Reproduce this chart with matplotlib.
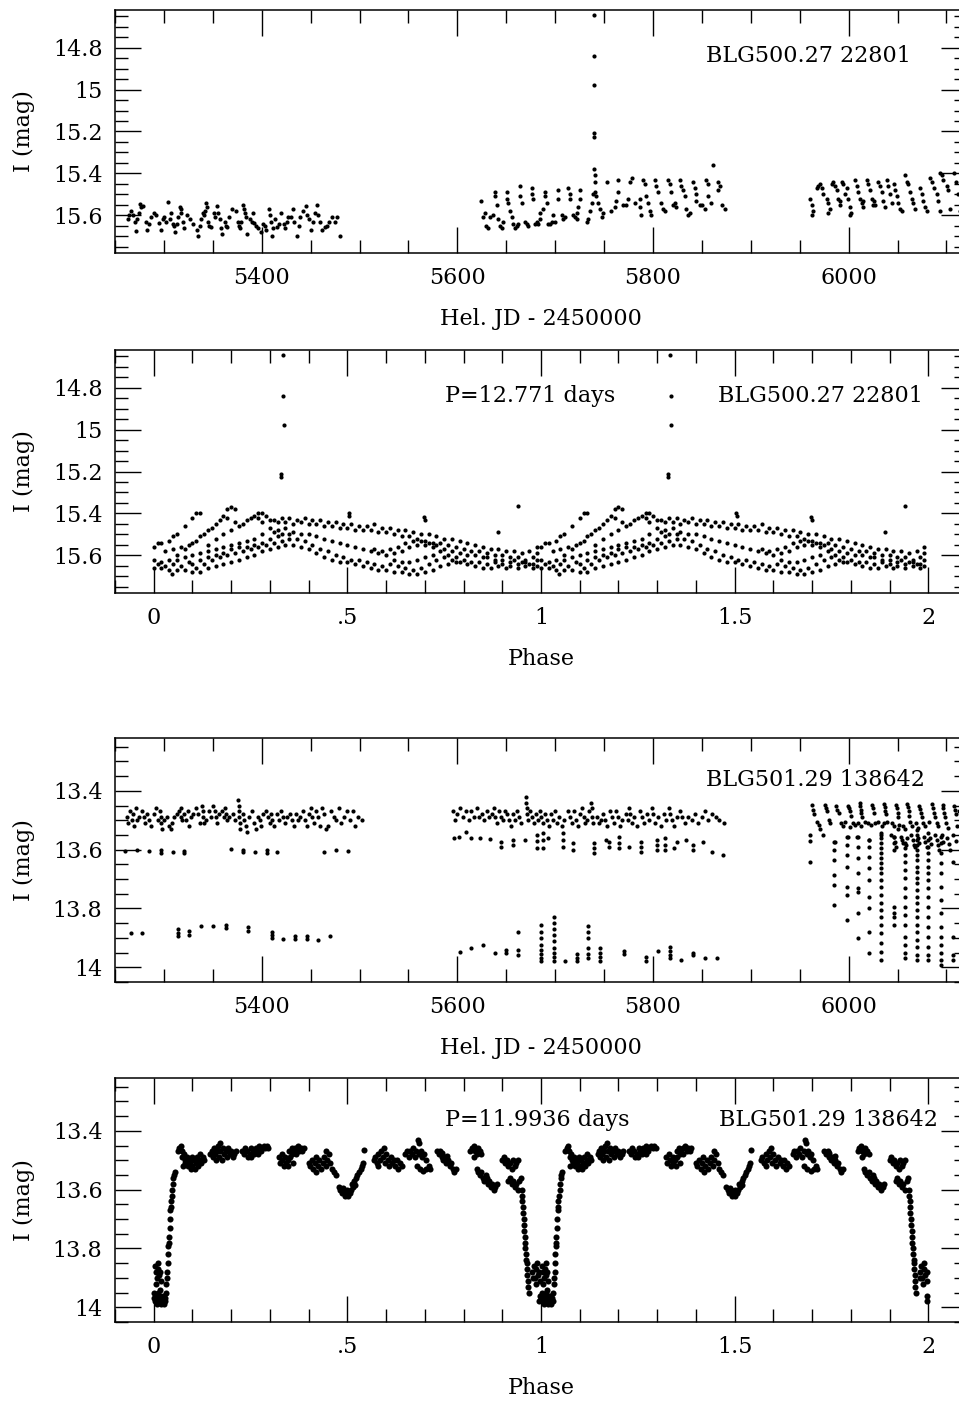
import numpy as np
import matplotlib.pyplot as plt
from matplotlib.ticker import MultipleLocator, FuncFormatter

plt.rcParams['font.family'] = ['DejaVu Serif']

# ---------------- BLG500.27 22801 : time series (HJD-2450000, I mag) ----------------
lc1_season1 = [
    (5263, 15.62), (5266, 15.58), (5268, 15.60), (5270, 15.63), (5271, 15.675), (5275, 15.59),
    (5276, 15.547), (5277, 15.56), (5279, 15.557), (5282, 15.63), (5283, 15.67), (5287, 15.61),
    (5290, 15.59), (5292, 15.60), (5295, 15.637), (5297, 15.67), (5300, 15.61), (5302, 15.63),
    (5304, 15.536), (5307, 15.59), (5309, 15.64), (5310, 15.65), (5311, 15.68), (5314, 15.61),
    (5316, 15.56), (5317, 15.59), (5318, 15.57), (5321, 15.66), (5324, 15.60), (5327, 15.62),
    (5334, 15.67), (5335, 15.70), (5338, 15.62), (5340, 15.59), (5341, 15.60), (5343, 15.54),
    (5344, 15.56), (5345, 15.63), (5348, 15.656), (5351, 15.59), (5352, 15.61), (5354, 15.557),
    (5357, 15.62), (5359, 15.69), (5362, 15.63), (5363, 15.65), (5365, 15.656), (5370, 15.57),
    (5376, 15.63), (5377, 15.65), (5378, 15.66), (5381, 15.55), (5382, 15.57), (5383, 15.59),
    (5385, 15.69), (5388, 15.62), (5390, 15.63), (5391, 15.59), (5392, 15.637), (5396, 15.66),
    (5401, 15.64), (5404, 15.67), (5407, 15.57), (5408, 15.60), (5409, 15.63), (5411, 15.70),
    (5414, 15.62), (5416, 15.656), (5420, 15.59), (5423, 15.64), (5424, 15.66), (5427, 15.61),
    (5432, 15.57), (5433, 15.63), (5436, 15.70), (5439, 15.61), (5442, 15.58), (5445, 15.557),
    (5448, 15.616), (5450, 15.67), (5454, 15.59), (5457, 15.55), (5460, 15.63), (5462, 15.67),
    (5465, 15.656), (5469, 15.63), (5472, 15.61), (5477, 15.61), (5480, 15.70),
    (5264, 15.60), (5273, 15.62), (5285, 15.64), (5299, 15.62), (5306, 15.62), (5313, 15.64),
    (5320, 15.63), (5330, 15.64), (5337, 15.65), (5342, 15.58), (5346, 15.65), (5355, 15.59),
    (5358, 15.66), (5367, 15.61), (5374, 15.58), (5379, 15.63), (5384, 15.61), (5394, 15.65),
    (5399, 15.68), (5403, 15.65), (5412, 15.66), (5418, 15.64), (5426, 15.63), (5430, 15.61),
    (5438, 15.65), (5446, 15.60), (5452, 15.63), (5458, 15.60), (5467, 15.65), (5475, 15.63),
]
lc1_season2 = [
    (5624.7, 15.53), (5628.1, 15.59), (5629.8, 15.65), (5631.5, 15.66), (5633.2, 15.61),
    (5638.4, 15.49), (5638.4, 15.51), (5640.1, 15.55), (5641.8, 15.62), (5643.5, 15.65), (5646.9, 15.63),
    (5650.3, 15.49), (5650.3, 15.52), (5652.0, 15.54), (5653.7, 15.58), (5655.4, 15.61), (5657.1, 15.64),
    (5662.2, 15.64), (5663.9, 15.46), (5663.9, 15.51), (5665.6, 15.54), (5669.0, 15.63), (5670.8, 15.64),
    (5675.9, 15.47), (5675.9, 15.50), (5677.6, 15.52), (5681.0, 15.63), (5684.4, 15.59), (5684.4, 15.62),
    (5687.8, 15.57), (5689.5, 15.49), (5689.5, 15.51), (5691.2, 15.54), (5694.6, 15.64), (5696.3, 15.63),
    (5698.0, 15.60), (5703.1, 15.48), (5703.1, 15.52), (5706.6, 15.60), (5708.3, 15.62),
    (5713.4, 15.47), (5715.1, 15.50), (5715.1, 15.52), (5721.9, 15.59), (5721.9, 15.62), (5723.6, 15.56),
    (5725.3, 15.48), (5725.3, 15.52), (5733.8, 15.62), (5735.5, 15.58), (5737.2, 15.54), (5738.9, 15.50),
    (5739.6, 14.643), (5739.6, 14.84), (5739.6, 14.976), (5739.6, 15.208), (5739.6, 15.224),
    (5739.6, 15.38), (5740.6, 15.41), (5740.6, 15.44), (5740.6, 15.49), (5741.5, 15.51),
    (5744.0, 15.54), (5745.7, 15.57), (5747.4, 15.61), (5752.5, 15.44),
    (5761.0, 15.56), (5762.7, 15.53), (5764.4, 15.49), (5764.4, 15.43), (5769.5, 15.55),
    (5774.6, 15.52), (5776.3, 15.44), (5778.7, 15.42), (5786.6, 15.52), (5786.6, 15.56),
    (5788.2, 15.60), (5789.9, 15.43), (5791.6, 15.45), (5793.3, 15.51), (5795.0, 15.54), (5796.7, 15.58),
    (5801.8, 15.43), (5803.5, 15.46), (5805.2, 15.49), (5808.6, 15.54), (5810.3, 15.57),
    (5815.4, 15.43), (5817.1, 15.45), (5818.8, 15.49), (5822.2, 15.54), (5823.9, 15.56),
    (5827.3, 15.43), (5829.0, 15.46), (5830.7, 15.48), (5832.4, 15.51), (5834.2, 15.57), (5835.8, 15.60),
    (5841.0, 15.44), (5842.7, 15.47), (5844.4, 15.50), (5844.4, 15.53), (5847.8, 15.55),
    (5854.6, 15.43), (5856.3, 15.45), (5856.3, 15.51), (5859.7, 15.54), (5861.4, 15.36),
    (5866.5, 15.44), (5866.5, 15.48), (5874.0, 15.57),
    (5626.4, 15.61), (5636.7, 15.60), (5645.2, 15.66), (5658.8, 15.66), (5660.5, 15.65),
    (5672.5, 15.65), (5679.3, 15.64), (5682.7, 15.64), (5693.0, 15.64), (5699.7, 15.63),
    (5710.0, 15.61), (5718.5, 15.60), (5720.2, 15.61), (5732.1, 15.63), (5749.1, 15.59),
    (5757.6, 15.58), (5772.9, 15.55), (5781.4, 15.54), (5798.4, 15.60), (5812.0, 15.58),
    (5820.5, 15.55), (5837.5, 15.59), (5850.0, 15.55), (5852.9, 15.57), (5868.2, 15.46), (5871.0, 15.55),
]
lc1_season3 = [
    (5960.6, 15.52), (5962.3, 15.55), (5964.0, 15.58), (5962.3, 15.60),
    (5967.4, 15.47), (5969.1, 15.46), (5970.8, 15.45), (5972.5, 15.47), (5974.2, 15.50),
    (5977.6, 15.52), (5979.3, 15.54), (5981.0, 15.57), (5979.3, 15.59),
    (5982.8, 15.45), (5984.5, 15.44), (5986.2, 15.46), (5987.9, 15.48),
    (5989.6, 15.52), (5991.3, 15.55), (5991.3, 15.53),
    (5993.0, 15.44), (5994.7, 15.45), (5996.4, 15.50), (5998.1, 15.47),
    (5999.8, 15.52), (6001.5, 15.56), (6002.2, 15.59), (6001.5, 15.60),
    (6006.6, 15.43), (6008.4, 15.46), (6010.0, 15.49), (6011.8, 15.52),
    (6013.5, 15.54), (6015.2, 15.53), (6015.2, 15.56),
    (6018.6, 15.43), (6020.3, 15.45), (6022.0, 15.48), (6023.7, 15.52), (6025.4, 15.55),
    (6026.1, 15.53), (6027.1, 15.55),
    (6030.5, 15.44), (6032.2, 15.46), (6033.9, 15.49), (6035.6, 15.53), (6037.3, 15.56),
    (6039.0, 15.43), (6040.7, 15.46), (6042.4, 15.50), (6043.9, 15.54),
    (6045.9, 15.45), (6047.6, 15.48), (6049.3, 15.51), (6051.0, 15.54), (6052.7, 15.57), (6054.4, 15.58),
    (6057.8, 15.41), (6059.5, 15.44), (6061.2, 15.45), (6062.9, 15.49), (6064.6, 15.52),
    (6066.3, 15.54), (6068.0, 15.57),
    (6073.1, 15.47), (6074.8, 15.50), (6076.5, 15.53), (6078.2, 15.56), (6079.9, 15.58),
    (6083.4, 15.42), (6085.1, 15.44), (6086.8, 15.47),
    (6090.2, 15.50), (6091.9, 15.53), (6093.6, 15.58),
    (6093.6, 15.40), (6095.3, 15.41), (6097.0, 15.43),
    (6100.4, 15.46), (6102.1, 15.48), (6103.8, 15.57),
    (6108, 15.40), (6110, 15.44), (6112, 15.50), (6115, 15.38), (6117, 15.45), (6114, 15.58),
]

# ---------------- BLG500.27 22801 : folded, P = 12.771 d (phase, I mag) ----------------
ph1_upper = [
    (0.27, 15.42), (0.29, 15.41), (0.31, 15.43), (0.33, 15.42), (0.35, 15.42), (0.37, 15.43),
    (0.39, 15.42), (0.41, 15.43), (0.43, 15.43), (0.45, 15.44), (0.47, 15.44), (0.49, 15.45),
    (0.51, 15.45), (0.53, 15.46), (0.55, 15.46), (0.57, 15.45), (0.59, 15.47), (0.61, 15.47),
    (0.63, 15.48), (0.65, 15.48), (0.67, 15.49), (0.69, 15.50), (0.71, 15.50), (0.73, 15.51),
    (0.75, 15.52), (0.77, 15.52), (0.79, 15.53), (0.81, 15.54), (0.83, 15.55), (0.85, 15.56),
    (0.87, 15.57), (0.89, 15.57), (0.91, 15.58), (0.93, 15.58), (0.95, 15.59), (0.97, 15.58), (0.99, 15.59),
    (0.28, 15.44), (0.30, 15.43), (0.32, 15.44), (0.34, 15.44), (0.36, 15.45), (0.38, 15.44),
    (0.40, 15.45), (0.42, 15.45), (0.44, 15.46), (0.46, 15.46), (0.48, 15.47), (0.50, 15.47),
    (0.52, 15.48), (0.54, 15.48), (0.56, 15.48), (0.58, 15.49), (0.60, 15.49), (0.62, 15.50),
    (0.64, 15.51), (0.66, 15.51), (0.68, 15.52), (0.70, 15.53), (0.72, 15.54), (0.74, 15.54),
    (0.76, 15.55), (0.78, 15.56), (0.80, 15.57), (0.82, 15.58), (0.84, 15.58), (0.86, 15.59),
    (0.88, 15.60), (0.90, 15.60), (0.92, 15.61), (0.94, 15.61), (0.96, 15.62), (0.98, 15.61),
]
ph1_middle = [
    (0.30, 15.47), (0.32, 15.48), (0.34, 15.47), (0.36, 15.49), (0.38, 15.50), (0.40, 15.50),
    (0.42, 15.51), (0.44, 15.52), (0.46, 15.53), (0.48, 15.54), (0.50, 15.55), (0.52, 15.56),
    (0.54, 15.57), (0.56, 15.58), (0.58, 15.59), (0.60, 15.60), (0.62, 15.59), (0.64, 15.58),
    (0.66, 15.56), (0.68, 15.55), (0.70, 15.55), (0.72, 15.56), (0.74, 15.58), (0.76, 15.60),
    (0.78, 15.61), (0.80, 15.62), (0.82, 15.63), (0.84, 15.63), (0.86, 15.64), (0.88, 15.63),
    (0.90, 15.64), (0.92, 15.63), (0.94, 15.64), (0.96, 15.63), (0.98, 15.64),
    (0.62, 15.62), (0.64, 15.63), (0.66, 15.63), (0.68, 15.62), (0.70, 15.61), (0.72, 15.60),
    (0.57, 15.57), (0.59, 15.58), (0.61, 15.57), (0.63, 15.56), (0.65, 15.54), (0.67, 15.53),
    (0.69, 15.53), (0.71, 15.54), (0.73, 15.55), (0.75, 15.57), (0.77, 15.58), (0.79, 15.59),
    (0.81, 15.60), (0.83, 15.60), (0.85, 15.61),
]
ph1_lower = [
    (0.38, 15.56), (0.40, 15.57), (0.42, 15.59), (0.44, 15.61), (0.46, 15.62), (0.48, 15.63),
    (0.50, 15.63), (0.52, 15.64), (0.54, 15.65), (0.56, 15.66), (0.58, 15.67), (0.60, 15.67),
    (0.62, 15.68), (0.64, 15.68), (0.66, 15.69), (0.68, 15.69), (0.70, 15.68), (0.72, 15.67),
    (0.74, 15.65), (0.76, 15.64), (0.78, 15.63),
    (0.31, 15.49), (0.33, 15.50), (0.35, 15.50), (0.37, 15.52), (0.39, 15.53), (0.41, 15.55),
    (0.43, 15.57), (0.45, 15.58), (0.47, 15.60), (0.49, 15.61), (0.51, 15.62), (0.53, 15.62),
    (0.55, 15.63), (0.57, 15.64), (0.59, 15.65), (0.61, 15.64), (0.63, 15.65), (0.65, 15.66),
    (0.67, 15.67), (0.69, 15.66), (0.71, 15.64), (0.73, 15.62), (0.75, 15.61), (0.77, 15.62),
    (0.79, 15.63), (0.81, 15.64), (0.83, 15.65), (0.85, 15.66), (0.87, 15.66), (0.89, 15.65),
    (0.91, 15.66), (0.93, 15.62), (0.95, 15.63), (0.97, 15.64), (0.99, 15.65),
]
ph1_rise = [
    (0.00, 15.66), (0.02, 15.66), (0.04, 15.67), (0.06, 15.67), (0.08, 15.67), (0.10, 15.68),
    (0.12, 15.68), (0.14, 15.66), (0.16, 15.65), (0.18, 15.64), (0.20, 15.63), (0.22, 15.62),
    (0.24, 15.61), (0.26, 15.60), (0.28, 15.58), (0.30, 15.57), (0.32, 15.56), (0.34, 15.55), (0.36, 15.55),
    (0.00, 15.62), (0.02, 15.63), (0.04, 15.62), (0.06, 15.62), (0.08, 15.61), (0.10, 15.60),
    (0.12, 15.59), (0.14, 15.58), (0.16, 15.57), (0.18, 15.56), (0.20, 15.55), (0.22, 15.54),
    (0.24, 15.53), (0.26, 15.52), (0.28, 15.50),
    (0.00, 15.56), (0.01, 15.54), (0.02, 15.54), (0.04, 15.53), (0.05, 15.51), (0.06, 15.50),
    (0.08, 15.46), (0.10, 15.42), (0.11, 15.40), (0.12, 15.40),
    (0.06, 15.60), (0.08, 15.57), (0.10, 15.54), (0.12, 15.51), (0.14, 15.48), (0.16, 15.45),
    (0.18, 15.41), (0.19, 15.38), (0.20, 15.37), (0.21, 15.38),
    (0.14, 15.55), (0.16, 15.52), (0.18, 15.50), (0.20, 15.48), (0.22, 15.46), (0.24, 15.43),
    (0.26, 15.41), (0.27, 15.40), (0.28, 15.40),
    (0.10, 15.64), (0.12, 15.62), (0.14, 15.61), (0.16, 15.60), (0.18, 15.59), (0.20, 15.57),
    (0.22, 15.56), (0.24, 15.56), (0.26, 15.55), (0.28, 15.54), (0.30, 15.52), (0.32, 15.51),
    (0.86, 15.61), (0.88, 15.62), (0.90, 15.62), (0.92, 15.65), (0.94, 15.66), (0.96, 15.65),
    (0.98, 15.66), (0.99, 15.62), (0.99, 15.56),
    (0.01, 15.64), (0.03, 15.65), (0.05, 15.64), (0.07, 15.65), (0.09, 15.63), (0.11, 15.66),
    (0.13, 15.64), (0.15, 15.62), (0.17, 15.61), (0.19, 15.60), (0.21, 15.59), (0.23, 15.58),
    (0.25, 15.57), (0.27, 15.56), (0.29, 15.55), (0.31, 15.54), (0.33, 15.53), (0.35, 15.52),
    (0.03, 15.58), (0.05, 15.57), (0.07, 15.56), (0.09, 15.55), (0.11, 15.53), (0.13, 15.50),
    (0.15, 15.47), (0.17, 15.43), (0.19, 15.42), (0.21, 15.44), (0.23, 15.45), (0.25, 15.42),
]
ph1_outliers = [
    (0.333, 14.645), (0.335, 14.84), (0.336, 14.98), (0.328, 15.21), (0.329, 15.225),
    (0.94, 15.363), (0.888, 15.49), (0.503, 15.40), (0.505, 15.41), (0.697, 15.416),
    (0.700, 15.43), (0.046, 15.69),
]

# ---------------- BLG501.29 138642 : time series ----------------
lc2_season1 = [
    (5262, 13.49), (5263, 13.51), (5265, 13.47), (5267, 13.50), (5268, 13.48), (5269, 13.52),
    (5271, 13.46), (5273, 13.50), (5275, 13.49), (5278, 13.47), (5280, 13.49), (5281, 13.51),
    (5283, 13.48), (5285, 13.50), (5287, 13.52), (5290, 13.48), (5292, 13.46), (5294, 13.50),
    (5296, 13.47), (5297, 13.49), (5297, 13.51), (5298, 13.53), (5300, 13.50), (5303, 13.49),
    (5305, 13.52), (5307, 13.53), (5308, 13.51), (5310, 13.49), (5313, 13.48), (5315, 13.47),
    (5317, 13.49), (5318, 13.46), (5319, 13.50), (5321, 13.48), (5323, 13.50), (5325, 13.47),
    (5326, 13.52), (5328, 13.49), (5330, 13.48), (5333, 13.46), (5335, 13.48), (5337, 13.51),
    (5339, 13.45), (5340, 13.47), (5340, 13.49), (5341, 13.51), (5343, 13.50), (5346, 13.47),
    (5348, 13.49), (5350, 13.45), (5352, 13.47), (5353, 13.49), (5354, 13.51), (5356, 13.48),
    (5359, 13.47), (5361, 13.49), (5362, 13.46), (5364, 13.48), (5365, 13.50), (5367, 13.49),
    (5371, 13.48), (5373, 13.50), (5376, 13.43), (5377, 13.45), (5377, 13.47), (5377, 13.49),
    (5378, 13.51), (5378, 13.53), (5381, 13.48), (5382, 13.50), (5384, 13.52), (5385, 13.54),
    (5387, 13.49), (5390, 13.47), (5392, 13.51), (5394, 13.53), (5396, 13.49), (5398, 13.50),
    (5399, 13.52), (5401, 13.48), (5404, 13.47), (5406, 13.49), (5408, 13.51), (5410, 13.48),
    (5411, 13.50), (5413, 13.52), (5416, 13.48), (5418, 13.50), (5420, 13.47), (5422, 13.49),
    (5424, 13.51), (5426, 13.49), (5429, 13.48), (5431, 13.50), (5433, 13.52), (5435, 13.48),
    (5437, 13.50), (5439, 13.49), (5442, 13.47), (5444, 13.50), (5446, 13.52), (5448, 13.48),
    (5450, 13.46), (5451, 13.49), (5453, 13.51), (5456, 13.47), (5458, 13.49), (5460, 13.52),
    (5462, 13.46), (5464, 13.48), (5466, 13.53), (5468, 13.52), (5471, 13.47), (5474, 13.49),
    (5476, 13.50), (5479, 13.46), (5481, 13.51), (5484, 13.49), (5487, 13.47), (5490, 13.50),
    (5493, 13.47), (5495, 13.52), (5498, 13.49), (5503, 13.50),
    (5260.4, 13.605), (5273, 13.602), (5285, 13.605), (5297, 13.600), (5297, 13.612),
    (5309, 13.608), (5321, 13.603), (5321, 13.612), (5369, 13.598), (5381, 13.600),
    (5381, 13.608), (5393, 13.607), (5405, 13.602), (5405, 13.612), (5416, 13.607),
    (5464, 13.608), (5476, 13.601), (5488, 13.603),
    (5266, 13.883), (5278, 13.883), (5314, 13.870), (5314, 13.882), (5314, 13.895),
    (5326, 13.875), (5326, 13.890), (5338, 13.860), (5350, 13.858), (5363, 13.855),
    (5363, 13.868), (5386, 13.862), (5386, 13.875), (5411, 13.880), (5411, 13.890),
    (5411, 13.900), (5422, 13.903), (5434, 13.895), (5434, 13.905), (5446, 13.895),
    (5446, 13.905), (5458, 13.907), (5470, 13.895),
]
lc2_season2 = [
    (5596, 13.47), (5598, 13.50), (5600, 13.48), (5603, 13.46), (5606, 13.49), (5609, 13.47),
    (5612, 13.50), (5614, 13.47), (5617, 13.49), (5620, 13.46), (5622, 13.49), (5625, 13.48),
    (5627, 13.50), (5630, 13.47), (5632, 13.49), (5635, 13.48), (5637, 13.46), (5639, 13.49),
    (5641, 13.51), (5643, 13.47), (5645, 13.49), (5647, 13.50), (5649, 13.47), (5651, 13.48),
    (5653, 13.50), (5655, 13.52), (5657, 13.48), (5659, 13.50), (5661, 13.47), (5663, 13.49),
    (5665, 13.51), (5670, 13.42), (5670, 13.44), (5671, 13.46), (5671, 13.48), (5672, 13.50),
    (5674, 13.47), (5676, 13.49), (5678, 13.51), (5680, 13.48), (5682, 13.50), (5684, 13.47),
    (5686, 13.49), (5688, 13.51), (5690, 13.48), (5692, 13.50), (5694, 13.52), (5696, 13.48),
    (5698, 13.50), (5700, 13.47), (5702, 13.51), (5704, 13.49), (5707, 13.52), (5709, 13.50),
    (5713, 13.47), (5715, 13.49), (5717, 13.51), (5719, 13.47), (5721, 13.50), (5723, 13.52),
    (5725, 13.48), (5727, 13.46), (5729, 13.49), (5731, 13.51), (5733, 13.50), (5735, 13.47),
    (5737, 13.44), (5738, 13.46), (5738, 13.49), (5739, 13.51), (5743, 13.49), (5745, 13.51),
    (5747, 13.50), (5749, 13.48), (5751, 13.50), (5753, 13.52), (5756, 13.47), (5758, 13.49),
    (5760, 13.51), (5762, 13.47), (5764, 13.49), (5766, 13.52), (5768, 13.50), (5772, 13.48),
    (5774, 13.50), (5776, 13.46), (5777, 13.48), (5779, 13.51), (5781, 13.49), (5784, 13.52),
    (5787, 13.47), (5789, 13.49), (5791, 13.51), (5794, 13.48), (5796, 13.50), (5799, 13.46),
    (5800, 13.48), (5802, 13.51), (5805, 13.49), (5808, 13.52), (5811, 13.48), (5813, 13.50),
    (5816, 13.46), (5817, 13.48), (5819, 13.50), (5822, 13.52), (5825, 13.49), (5828, 13.47),
    (5830, 13.49), (5833, 13.51), (5836, 13.49), (5840, 13.50), (5843, 13.48), (5846, 13.51),
    (5850, 13.49), (5853, 13.47), (5856, 13.50), (5860, 13.48), (5864, 13.49), (5868, 13.50),
    (5873, 13.51),
    (5597, 13.560), (5602, 13.556), (5609, 13.540), (5614, 13.560), (5623, 13.561), (5633, 13.565),
    (5645, 13.573), (5645, 13.590), (5657, 13.567), (5657, 13.584), (5669, 13.567), (5681, 13.550),
    (5681, 13.570), (5681, 13.595), (5688, 13.544), (5688, 13.567), (5688, 13.595), (5693, 13.561),
    (5708, 13.544), (5708, 13.567), (5708, 13.590), (5718, 13.578), (5718, 13.601), (5740, 13.578),
    (5740, 13.595), (5740, 13.612), (5752, 13.567), (5755, 13.573), (5755, 13.590), (5765, 13.556),
    (5765, 13.578), (5765, 13.595), (5776, 13.590), (5788, 13.573), (5788, 13.590), (5788, 13.607),
    (5804, 13.567), (5804, 13.584), (5804, 13.601), (5812, 13.561), (5812, 13.584), (5812, 13.601),
    (5822, 13.595), (5825, 13.573), (5834, 13.567), (5841, 13.584), (5841, 13.601), (5851, 13.573),
    (5860, 13.607), (5872, 13.618),
    (5602.6, 13.947), (5614, 13.936), (5626, 13.925), (5638, 13.951), (5650, 13.942), (5650, 13.951),
    (5662, 13.879), (5662, 13.942), (5662, 13.959), (5686, 13.857), (5686, 13.880), (5686, 13.902),
    (5686, 13.925), (5686, 13.942), (5686, 13.955), (5686, 13.970), (5686, 13.980), (5699, 13.828),
    (5699, 13.850), (5699, 13.870), (5699, 13.890), (5699, 13.912), (5699, 13.935), (5699, 13.950),
    (5699, 13.965), (5699, 13.980), (5710, 13.980), (5722, 13.955), (5722, 13.968), (5722, 13.980),
    (5734, 13.860), (5734, 13.880), (5734, 13.900), (5734, 13.935), (5734, 13.955), (5734, 13.970),
    (5746, 13.935), (5746, 13.950), (5746, 13.965), (5746, 13.980), (5770, 13.945), (5770, 13.955),
    (5793, 13.965), (5793, 13.980), (5805, 13.945), (5817, 13.930), (5817, 13.945), (5817, 13.960),
    (5817, 13.970), (5829, 13.975), (5841, 13.950), (5841, 13.960), (5853, 13.970), (5865, 13.970),
]
lc2_season3 = [
    (5963, 13.448), (5964, 13.465), (5965, 13.480), (5976, 13.448), (5977, 13.460), (5978, 13.470),
    (5987, 13.450), (5988, 13.465), (5990, 13.475), (5999, 13.450), (6000, 13.460), (6001, 13.470),
    (6002, 13.485), (6012, 13.442), (6012, 13.453), (6013, 13.465), (6013, 13.476), (6014, 13.488),
    (6024, 13.448), (6025, 13.460), (6026, 13.475), (6036, 13.445), (6037, 13.455), (6037, 13.468),
    (6038, 13.480), (6048, 13.448), (6049, 13.460), (6050, 13.475), (6051, 13.488), (6060, 13.445),
    (6061, 13.455), (6062, 13.470), (6062, 13.485), (6072, 13.450), (6073, 13.462), (6074, 13.476),
    (6075, 13.490), (6085, 13.445), (6086, 13.460), (6087, 13.475), (6088, 13.490), (6096, 13.448),
    (6097, 13.460), (6098, 13.475), (6099, 13.490), (6108, 13.450), (6109, 13.465), (6110, 13.480),
    (6113, 13.470),
    (5968, 13.505), (5970, 13.516), (5971, 13.530), (5980, 13.500), (5981, 13.511), (5992, 13.510),
    (5994, 13.520), (5996, 13.505), (6001, 13.522), (6004, 13.511), (6007, 13.516), (6010, 13.511),
    (6013, 13.520), (6017, 13.505), (6020, 13.511), (6023, 13.516), (6027, 13.511), (6030, 13.505),
    (6034, 13.520), (6036, 13.511), (6039, 13.505), (6044, 13.510), (6046, 13.520), (6050, 13.530),
    (6052, 13.515), (6056, 13.520), (6058, 13.530), (6063, 13.505), (6065, 13.520), (6069, 13.510),
    (6071, 13.525), (6076, 13.510), (6078, 13.520), (6082, 13.505), (6090, 13.510), (6091, 13.520),
    (6100, 13.510), (6102, 13.525), (6111, 13.520),
    (5961, 13.550), (5961, 13.570), (5974, 13.550), (5986, 13.573), (5999, 13.556), (6009, 13.556),
    (6021, 13.567), (6033, 13.550), (6043, 13.550), (6046, 13.556), (6047, 13.573), (6048, 13.590),
    (6054, 13.556), (6055, 13.567), (6056, 13.578), (6059, 13.584), (6060, 13.560), (6064, 13.550),
    (6066, 13.567), (6067, 13.584), (6068, 13.590), (6071, 13.560), (6072, 13.578), (6077, 13.556),
    (6078, 13.573), (6080, 13.590), (6083, 13.560), (6084, 13.580), (6088, 13.550), (6090, 13.567),
    (6091, 13.584), (6092, 13.600), (6095, 13.550), (6096, 13.575), (6101, 13.560), (6103, 13.580),
    (6104, 13.600), (6107, 13.550), (6110, 13.570), (5961, 13.641),
]
# nights caught in eclipse ingress: (HJD-2450000, [I mag, ...])
lc2_eclipse_nights = [
    (5985.5, [13.573, 13.601, 13.635, 13.686, 13.720, 13.788]),
    (5998.0, [13.556, 13.584, 13.618, 13.658, 13.726, 13.754, 13.839]),
    (6009.4, [13.556, 13.590, 13.629, 13.680, 13.731, 13.743, 13.817, 13.902]),
    (6021.3, [13.567, 13.590, 13.624, 13.663, 13.703, 13.760, 13.800, 13.879, 13.953]),
    (6033.3, [13.544, 13.561, 13.578, 13.595, 13.612, 13.629, 13.646, 13.663, 13.680, 13.703,
              13.726, 13.754, 13.783, 13.805, 13.828, 13.856, 13.885, 13.919, 13.947, 13.976]),
    (6046.0, [13.556, 13.578, 13.601, 13.794, 13.817, 13.828, 13.856]),
    (6057.8, [13.578, 13.595, 13.618, 13.641, 13.669, 13.697, 13.731, 13.760, 13.794, 13.823,
              13.856, 13.896, 13.925, 13.953, 13.970]),
    (6069.7, [13.533, 13.550, 13.567, 13.584, 13.601, 13.618, 13.635, 13.658, 13.675, 13.697,
              13.714, 13.737, 13.760, 13.783, 13.805, 13.828, 13.856, 13.879, 13.907, 13.930,
              13.959, 13.976]),
    (6081.6, [13.544, 13.567, 13.590, 13.612, 13.635, 13.658, 13.680, 13.703, 13.731, 13.760,
              13.794, 13.828, 13.862, 13.896, 13.930, 13.959, 13.976]),
    (6094.3, [13.556, 13.578, 13.612, 13.646, 13.680, 13.726, 13.771, 13.817, 13.862, 13.896,
              13.925, 13.953, 13.976, 13.993]),
    (6106.5, [13.641, 13.896, 13.959, 13.976]),
]

# ---------------- BLG501.29 138642 : folded, P = 11.9936 d ----------------
ph2_plateau = [
    # clump ~0.06-0.13
    (0.062, 13.47), (0.066, 13.46), (0.070, 13.45), (0.072, 13.47), (0.074, 13.49), (0.078, 13.48),
    (0.080, 13.50), (0.082, 13.51), (0.086, 13.49), (0.088, 13.52), (0.090, 13.50), (0.094, 13.51),
    (0.096, 13.53), (0.098, 13.49), (0.100, 13.52), (0.104, 13.50), (0.106, 13.53), (0.108, 13.51),
    (0.112, 13.49), (0.114, 13.52), (0.118, 13.50), (0.120, 13.48), (0.122, 13.51), (0.126, 13.49),
    (0.130, 13.50), (0.076, 13.52),
    # clump ~0.15-0.21
    (0.146, 13.48), (0.150, 13.47), (0.152, 13.49), (0.156, 13.46), (0.158, 13.48), (0.160, 13.50),
    (0.164, 13.47), (0.166, 13.45), (0.168, 13.49), (0.170, 13.44), (0.172, 13.47), (0.176, 13.50),
    (0.178, 13.46), (0.182, 13.48), (0.186, 13.47), (0.188, 13.49), (0.192, 13.46), (0.196, 13.48),
    (0.200, 13.47), (0.204, 13.49), (0.208, 13.48), (0.212, 13.47),
    # clump ~0.23-0.30
    (0.228, 13.47), (0.232, 13.48), (0.236, 13.46), (0.240, 13.47), (0.244, 13.49), (0.248, 13.48),
    (0.252, 13.46), (0.256, 13.47), (0.260, 13.48), (0.264, 13.46), (0.268, 13.47), (0.272, 13.45),
    (0.276, 13.47), (0.280, 13.46), (0.284, 13.45), (0.288, 13.46), (0.292, 13.45), (0.296, 13.46),
    (0.250, 13.49), (0.270, 13.48),
    # clump ~0.32-0.39
    (0.324, 13.49), (0.326, 13.51), (0.330, 13.48), (0.332, 13.50), (0.336, 13.52), (0.340, 13.49),
    (0.342, 13.51), (0.346, 13.50), (0.350, 13.47), (0.352, 13.49), (0.356, 13.46), (0.358, 13.48),
    (0.362, 13.47), (0.366, 13.46), (0.368, 13.48), (0.372, 13.45), (0.376, 13.47), (0.380, 13.46),
    (0.384, 13.47), (0.388, 13.46), (0.360, 13.51), (0.348, 13.52),
    # clump ~0.40-0.47
    (0.400, 13.51), (0.404, 13.52), (0.408, 13.50), (0.412, 13.53), (0.416, 13.51), (0.420, 13.54),
    (0.424, 13.52), (0.428, 13.50), (0.432, 13.53), (0.436, 13.51), (0.440, 13.49), (0.444, 13.52),
    (0.446, 13.47), (0.448, 13.50), (0.452, 13.48), (0.456, 13.51), (0.460, 13.53), (0.466, 13.54),
    (0.470, 13.55), (0.418, 13.49),
    # secondary minimum ~0.48-0.55
    (0.478, 13.59), (0.482, 13.60), (0.486, 13.61), (0.490, 13.60), (0.494, 13.62), (0.498, 13.61),
    (0.502, 13.62), (0.506, 13.61), (0.510, 13.60), (0.514, 13.59), (0.488, 13.595), (0.500, 13.60),
    (0.518, 13.57), (0.522, 13.56), (0.526, 13.55), (0.530, 13.54), (0.534, 13.53), (0.538, 13.52),
    (0.540, 13.51), (0.543, 13.465), (0.512, 13.58), (0.520, 13.585),
    # clump ~0.57-0.64
    (0.568, 13.50), (0.572, 13.49), (0.576, 13.51), (0.580, 13.48), (0.584, 13.50), (0.588, 13.47),
    (0.592, 13.49), (0.596, 13.51), (0.600, 13.48), (0.604, 13.50), (0.608, 13.52), (0.612, 13.49),
    (0.616, 13.51), (0.620, 13.50), (0.624, 13.52), (0.628, 13.50), (0.632, 13.53), (0.636, 13.51),
    (0.640, 13.52), (0.594, 13.46), (0.580, 13.52),
    # clump ~0.65-0.71
    (0.650, 13.48), (0.654, 13.47), (0.658, 13.49), (0.662, 13.47), (0.666, 13.48), (0.670, 13.46),
    (0.674, 13.49), (0.678, 13.47), (0.682, 13.43), (0.684, 13.44), (0.686, 13.48), (0.690, 13.47),
    (0.694, 13.49), (0.698, 13.48), (0.702, 13.50), (0.680, 13.52), (0.688, 13.53), (0.696, 13.535),
    (0.704, 13.53), (0.710, 13.52), (0.714, 13.53),
    # clump ~0.73-0.78
    (0.732, 13.47), (0.736, 13.48), (0.740, 13.47), (0.744, 13.49), (0.748, 13.50), (0.752, 13.49),
    (0.756, 13.51), (0.760, 13.50), (0.764, 13.52), (0.768, 13.51), (0.772, 13.53), (0.776, 13.54),
    (0.780, 13.53), (0.745, 13.475), (0.758, 13.485),
    # clumps ~0.82-0.95
    (0.818, 13.47), (0.822, 13.46), (0.826, 13.45), (0.830, 13.47), (0.834, 13.48), (0.838, 13.46),
    (0.842, 13.47), (0.846, 13.48), (0.828, 13.49),
    (0.834, 13.53), (0.838, 13.54), (0.842, 13.55), (0.846, 13.54), (0.850, 13.56), (0.854, 13.57),
    (0.858, 13.55), (0.862, 13.58), (0.866, 13.57), (0.870, 13.59), (0.874, 13.58), (0.878, 13.60),
    (0.882, 13.59), (0.886, 13.58), (0.860, 13.56),
    (0.900, 13.50), (0.904, 13.49), (0.908, 13.51), (0.912, 13.50), (0.916, 13.52), (0.920, 13.51),
    (0.924, 13.53), (0.928, 13.50), (0.932, 13.52), (0.936, 13.51), (0.940, 13.50),
    (0.916, 13.57), (0.920, 13.56), (0.924, 13.58), (0.928, 13.57), (0.932, 13.59), (0.936, 13.58),
    (0.940, 13.60), (0.944, 13.57), (0.948, 13.56),
]
ph2_eclipse = [
    # ingress
    (0.950, 13.60), (0.952, 13.64), (0.954, 13.68), (0.956, 13.72), (0.958, 13.76), (0.960, 13.80),
    (0.962, 13.84), (0.964, 13.87), (0.965, 13.89), (0.966, 13.91), (0.967, 13.93), (0.968, 13.95),
    (0.951, 13.62), (0.953, 13.66), (0.955, 13.70), (0.957, 13.74), (0.959, 13.78), (0.961, 13.82),
    (0.963, 13.85),
    # upper clump round minimum
    (0.978, 13.88), (0.982, 13.86), (0.984, 13.90), (0.988, 13.87), (0.990, 13.85), (0.992, 13.89),
    (0.996, 13.88), (0.998, 13.91), (0.986, 13.92), (0.980, 13.90), (0.003, 13.86), (0.006, 13.88),
    (0.008, 13.90), (0.010, 13.87), (0.012, 13.85), (0.014, 13.89), (0.016, 13.88), (0.018, 13.91),
    (0.005, 13.92),
    # bottom of minimum
    (0.000, 13.97), (0.002, 13.95), (0.004, 13.98), (0.006, 13.96), (0.008, 13.99), (0.010, 13.97),
    (0.012, 13.95), (0.014, 13.98), (0.016, 13.96), (0.018, 13.99), (0.020, 13.97), (0.022, 13.98),
    (0.024, 13.96), (0.026, 13.99), (0.028, 13.97), (0.030, 13.98), (0.996, 13.98), (0.998, 13.96),
    (0.015, 13.94),
    # egress
    (0.031, 13.95), (0.033, 13.92), (0.035, 13.88), (0.036, 13.85), (0.037, 13.82), (0.038, 13.79),
    (0.040, 13.76), (0.041, 13.73), (0.042, 13.70), (0.043, 13.67), (0.045, 13.64), (0.046, 13.62),
    (0.048, 13.60), (0.049, 13.58), (0.051, 13.56), (0.053, 13.55), (0.055, 13.54), (0.034, 13.90),
    (0.039, 13.78), (0.044, 13.66),
]

names = ["BLG500.27 22801", "BLG501.29 138642"]
periods = ["P=12.771 days", "P=11.9936 days"]
jd_label = "Hel. JD - 2450000"


def fmt_num(v, pos):
    s = "%g" % round(v, 4)
    if s.startswith("0."):
        s = s[1:]
    return s


def style_axes(ax, xmaj, xmin, ymaj, ymin):
    ax.xaxis.set_major_locator(MultipleLocator(xmaj))
    ax.xaxis.set_minor_locator(MultipleLocator(xmin))
    ax.yaxis.set_major_locator(MultipleLocator(ymaj))
    ax.yaxis.set_minor_locator(MultipleLocator(ymin))
    ax.xaxis.set_major_formatter(FuncFormatter(fmt_num))
    ax.yaxis.set_major_formatter(FuncFormatter(fmt_num))
    ax.tick_params(which="both", direction="in", top=True, right=True,
                   width=1.0, labelsize=16, colors="black")
    ax.tick_params(axis="y", which="both", pad=9)
    ax.tick_params(axis="x", which="both", pad=10)
    ax.tick_params(which="major", length=18.5)
    ax.tick_params(which="minor", length=9.5)
    for sp in ax.spines.values():
        sp.set_linewidth(1.1)
    ax.set_ylabel("I (mag)", fontsize=16)
    ax.yaxis.set_label_coords(-0.094, 0.5)


def dots(ax, pairs, ms=3.0):
    arr = np.array(pairs)
    ax.plot(arr[:, 0], arr[:, 1], "o", color="black", ms=ms, mew=0, ls="none")


fig = plt.figure(figsize=(9.59, 14.01), dpi=100)
W = 0.8884
ax1 = fig.add_axes([0.1199, 0.8194, W, 0.1735])
ax2 = fig.add_axes([0.1199, 0.5767, W, 0.1735])
ax3 = fig.add_axes([0.1199, 0.2991, W, 0.1742])
ax4 = fig.add_axes([0.1199, 0.0564, W, 0.1742])

# panel 1: time series of star 1
for season in (lc1_season1, lc1_season2, lc1_season3):
    dots(ax1, season)
ax1.set_xlim(5250, 6121)
ax1.set_ylim(15.78, 14.62)
style_axes(ax1, 200, 50, 0.2, 0.05)

# panel 2: folded light curve of star 1, shown over two cycles
ph1 = np.array(ph1_upper + ph1_middle + ph1_lower + ph1_rise + ph1_outliers)
for shift in (0, 1):
    ax2.plot(ph1[:, 0] + shift, ph1[:, 1], "o", color="black", ms=3.0, mew=0, ls="none")
ax2.set_xlim(-0.1, 2.1)
ax2.set_ylim(15.78, 14.62)
style_axes(ax2, 0.5, 0.1, 0.2, 0.05)

# panel 3: time series of star 2
for season in (lc2_season1, lc2_season2, lc2_season3):
    dots(ax3, season)
ecl_t = [t for t, mags in lc2_eclipse_nights for _ in mags]
ecl_m = [m for _, mags in lc2_eclipse_nights for m in mags]
ax3.plot(ecl_t, ecl_m, "o", color="black", ms=3.0, mew=0, ls="none")
ax3.set_xlim(5250, 6121)
ax3.set_ylim(14.05, 13.22)
style_axes(ax3, 200, 50, 0.2, 0.05)

# panel 4: folded light curve of star 2
ph2 = np.array(ph2_plateau + ph2_eclipse)
for shift in (0, 1):
    ax4.plot(ph2[:, 0] + shift, ph2[:, 1], "o", color="black", ms=4.4, mew=0, ls="none")
ax4.set_xlim(-0.1, 2.1)
ax4.set_ylim(14.05, 13.22)
style_axes(ax4, 0.5, 0.1, 0.2, 0.05)

for ax, lab in ((ax1, jd_label), (ax2, "Phase"), (ax3, jd_label), (ax4, "Phase")):
    ax.set_xlabel(lab, fontsize=16)
    ax.xaxis.set_label_coords(0.5, -0.225)

ax1.text(0.934, 0.786, names[0], transform=ax1.transAxes, ha="right", va="baseline", fontsize=16)
ax2.text(0.948, 0.786, names[0], transform=ax2.transAxes, ha="right", va="baseline", fontsize=16)
ax2.text(0.387, 0.786, periods[0], transform=ax2.transAxes, ha="left", va="baseline", fontsize=16)
ax3.text(0.9507, 0.803, names[1], transform=ax3.transAxes, ha="right", va="baseline", fontsize=16)
ax4.text(0.966, 0.803, names[1], transform=ax4.transAxes, ha="right", va="baseline", fontsize=16)
ax4.text(0.387, 0.803, periods[1], transform=ax4.transAxes, ha="left", va="baseline", fontsize=16)

fig.savefig("out.png", dpi=100)
